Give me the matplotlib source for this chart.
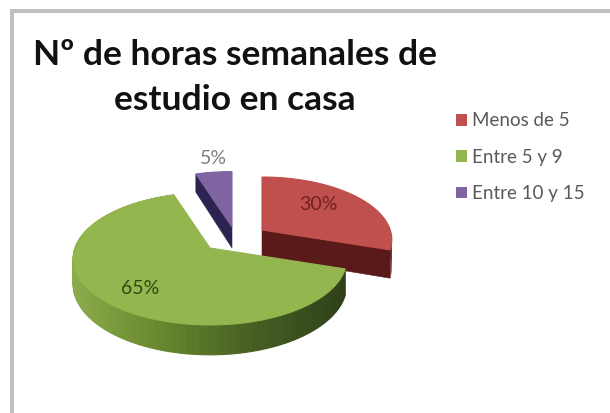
import matplotlib
matplotlib.use("Agg")
import matplotlib.pyplot as plt
import numpy as np
from matplotlib.colors import to_rgb
from matplotlib.patches import Patch, Polygon, Rectangle

plt.rcParams['font.family'] = ['Lato', 'DejaVu Sans']

categories = ["Menos de 5", "Entre 5 y 9", "Entre 10 y 15"]
values = [30, 65, 5]
colors = ['#c0504d', '#93b64f', '#8064a2']
wall_colors = ['#5a1a19', '#55702a', '#2d2350']
label_colors = ['#6e2422', '#2f4a12', '#7f7f7f']
title_lines = ["Nº de horas semanales de", "estudio en casa"]

# apex of each exploded slice, radii and height of the tilted disc
apex = [(262, 230), (210, 248), (232, 227)]
radius = [0.95, 1, 1]
label_pos = [(318, 204), (140, 288), (213, 158)]
heights = [27, 25, 21]
RX, RY, P = 135, 64.4, 0.163


def project(theta, r, h, origin):
    # theta in degrees clockwise from 12 o'clock, h is the drop below the top face
    t = np.radians(theta)
    x, y = r * np.sin(t), -r * np.cos(t)
    s = 1 / (1 - P * y)
    return origin[0] + RX * x * s, origin[1] + RY * y * s + h * s


def side_color(frac):
    stops = [0, 0.3, 0.6, 1]
    rgb = np.array([to_rgb(c) for c in ['#8cab4b', '#6a8a30', '#4d6625', '#2f4019']])
    return [np.interp(frac, stops, rgb[:, i]) for i in range(3)]


def draw_slice(ax, start, stop, color, wall, origin, height, r=1, gradient=False):
    thetas = np.linspace(start, stop, 120)

    # outer wall as thin quads so the shading can vary along the rim
    for a, b in zip(thetas[:-1], thetas[1:]):
        quad = [project(a, r, 0, origin), project(b, r, 0, origin),
                project(b, r, height, origin), project(a, r, height, origin)]
        c = wall
        if gradient:
            c = side_color((quad[0][0] - origin[0] + RX) / (2 * RX))
        ax.add_patch(Polygon(quad, closed=True, fc=c, ec=c, lw=0.8 if gradient else 0))

    # cut wall facing the viewer, on the side of the lower angle
    if not gradient:
        wall_start = stop if start == 0 else start
        quad = [project(0, 0, 0, origin), project(wall_start, r, 0, origin),
                project(wall_start, r, height, origin), project(0, 0, height, origin)]
        ax.add_patch(Polygon(quad, closed=True, fc=wall, ec=wall, lw=0.4))

    top = [project(0, 0, 0, origin)] + [project(t, r, 0, origin) for t in thetas]
    ax.add_patch(Polygon(top, closed=True, fc=color, ec=color, lw=0.8))


fig, ax = plt.subplots(figsize=(6.1, 4.13), dpi=100)
ax.set_position([0, 0, 1, 1])
ax.set_xlim(0, 610)
ax.set_ylim(413, 0)
ax.axis('off')

# chart frame, only the top and left edges are in view
ax.add_patch(Rectangle((12, 10.5), 640, 440, fc='white', ec='#bfbfbf', lw=2.8))

edges = np.concatenate([[0], np.cumsum(values)]) * 3.6
for i in [2, 0, 1]:
    draw_slice(ax, edges[i], edges[i + 1], colors[i], wall_colors[i], apex[i],
               heights[i], r=radius[i], gradient=(i == 1))

for v, pos, c in zip(values, label_pos, label_colors):
    ax.text(pos[0], pos[1], f"{v}%", color=c, fontsize=14, ha='center', va='center')

for line, base in zip(title_lines, [65, 110]):
    ax.text(235, base, line, fontsize=25.5, fontweight='bold', color='#111111',
            ha='center', va='baseline')

handles = [Patch(fc=c, ec='none', label=l) for c, l in zip(colors, categories)]
ax.legend(handles=handles, loc='upper left', bbox_to_anchor=(456 / 610, 1 - 112.5 / 413),
          frameon=False, fontsize=13.5, labelcolor='#595959', handlelength=0.59,
          handleheight=0.59, handletextpad=0.27, labelspacing=1.03, borderpad=0, borderaxespad=0)

fig.savefig("out.png", dpi=100)
